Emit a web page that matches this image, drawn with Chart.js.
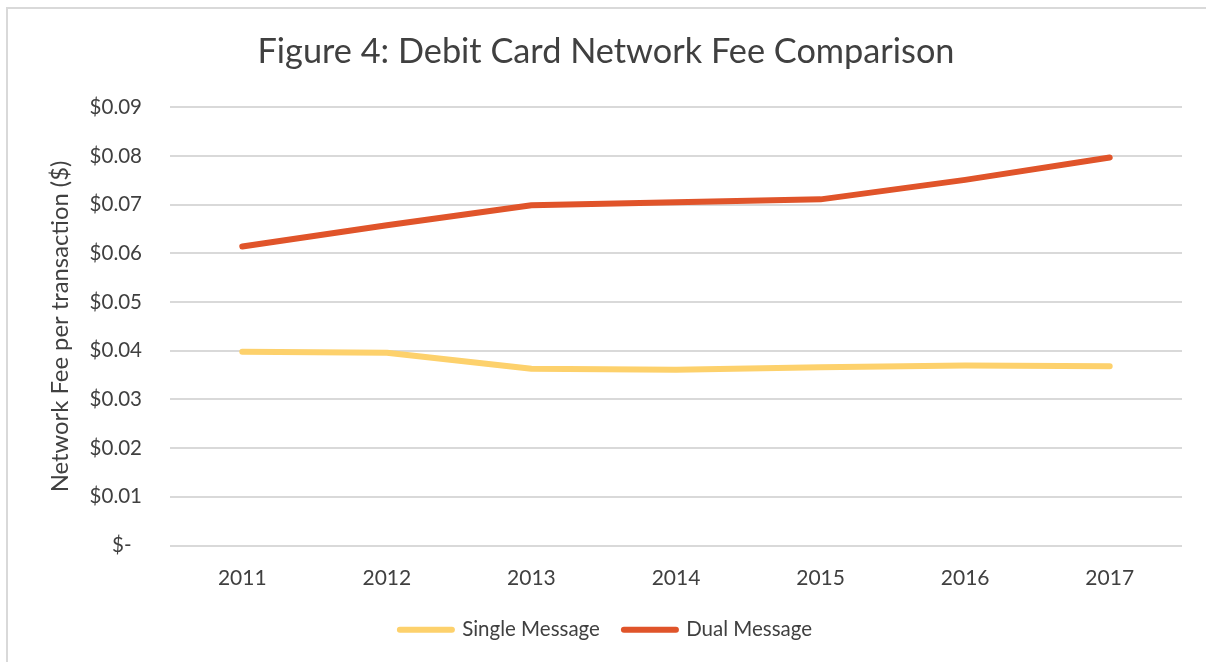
<!DOCTYPE html>
<html>
<head>
<meta charset="utf-8">
<script src="https://cdn.jsdelivr.net/npm/chart.js@4"></script>
<style>
  html, body { margin: 0; padding: 0; background: #ffffff; width: 1206px; height: 662px; overflow: hidden; }
  #frame { position: absolute; left: 6px; top: 7px; width: 1300px; height: 700px;
           border-left: 2px solid #d9d9d9; border-top: 2px solid #d9d9d9; }
  #wrap { position: absolute; left: 0; top: 0; width: 1206px; height: 662px; }
</style>
</head>
<body>
<div id="frame"></div>
<div id="wrap"><canvas id="c" width="1206" height="662"></canvas></div>
<script>
const years = ['2011', '2012', '2013', '2014', '2015', '2016', '2017'];
const singleMessage = [0.0398, 0.0396, 0.0363, 0.0361, 0.0366, 0.0370, 0.0368];
const dualMessage = [0.0614, 0.0658, 0.0699, 0.0705, 0.0711, 0.0751, 0.0797];
const chartTitle = 'Figure 4: Debit Card Network Fee Comparison';
const yAxisTitle = 'Network Fee per transaction ($)';
const seriesNames = ['Single Message', 'Dual Message'];

const textColor = '#404040';
const fontFamily = 'Lato, "Open Sans", sans-serif';

new Chart(document.getElementById('c'), {
  type: 'line',
  data: {
    labels: years,
    datasets: [
      { label: seriesNames[0], data: singleMessage, borderColor: '#FDD16C', backgroundColor: '#FDD16C',
        borderWidth: 6, pointRadius: 0, borderCapStyle: 'round', borderJoinStyle: 'round', tension: 0 },
      { label: seriesNames[1], data: dualMessage, borderColor: '#E0542A', backgroundColor: '#E0542A',
        borderWidth: 6, pointRadius: 0, borderCapStyle: 'round', borderJoinStyle: 'round', tension: 0 }
    ]
  },
  options: {
    responsive: false,
    animation: false,
    layout: { padding: { left: 30, right: 24, top: 10, bottom: 12 } },
    plugins: {
      title: { display: true, text: chartTitle, color: textColor,
               font: { family: fontFamily, size: 34.3, weight: 'normal' },
               padding: { top: 21, bottom: 35.2 } },
      legend: { position: 'bottom',
                labels: { usePointStyle: true, pointStyle: 'line', pointStyleWidth: 52,
                          color: textColor, font: { family: fontFamily, size: 20.5 }, padding: 24,
                          generateLabels(chart) {
                            const items = Chart.defaults.plugins.legend.labels.generateLabels(chart);
                            items.forEach(it => { it.lineWidth = 6; it.lineCap = 'round'; it.pointStyle = 'line'; });
                            return items;
                          } } },
      tooltip: { enabled: false }
    },
    scales: {
      x: {
        offset: true,
        grid: { display: false, drawTicks: false },
        border: { display: false },
        ticks: { color: textColor, font: { family: fontFamily, size: 21 }, padding: 20, maxRotation: 0 },
        afterFit(scale) { scale.height = 50; }
      },
      y: {
        min: 0, max: 0.09,
        grid: { color: '#d9d9d9', lineWidth: 2, drawTicks: false },
        border: { display: false },
        ticks: { stepSize: 0.01, color: textColor, font: { family: fontFamily, size: 20.5 }, padding: 28,
                 callback(v) { return Math.abs(v) < 1e-9 ? '$-  ' : '$' + Number(v).toFixed(2); } },
        title: { display: true, text: yAxisTitle, color: textColor,
                 font: { family: fontFamily, size: 23.8 }, padding: { top: 16, bottom: 0 } },
        afterFit(scale) { scale.width = 140; }
      }
    }
  }
});
</script>
</body>
</html>
